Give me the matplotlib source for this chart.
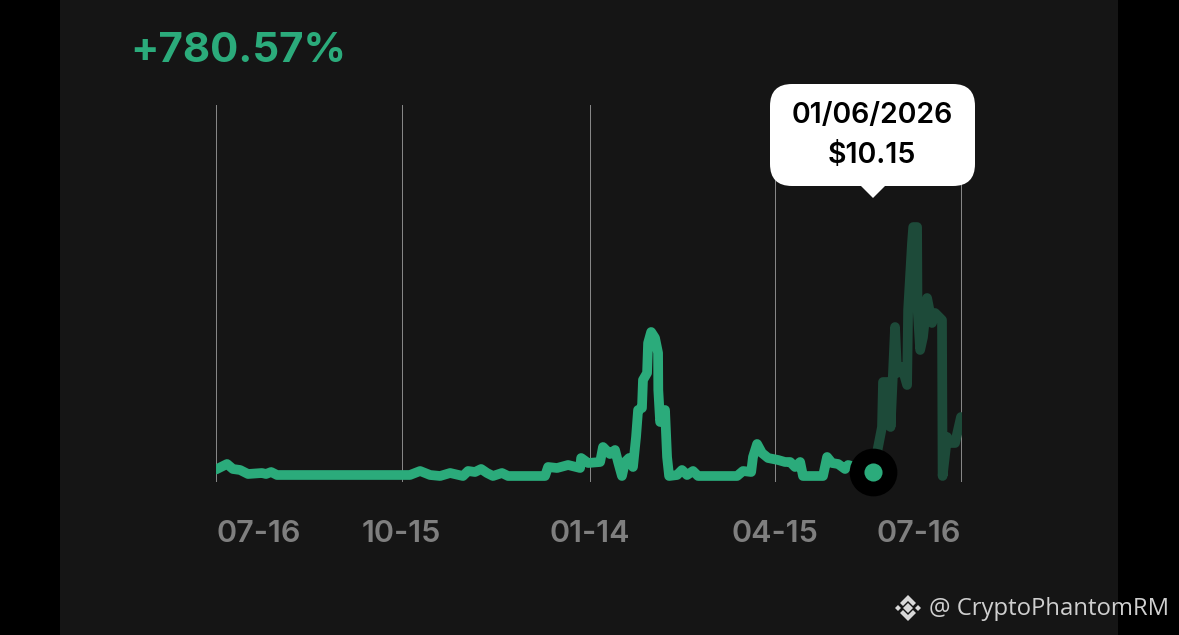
import matplotlib
matplotlib.use('agg')
import matplotlib.pyplot as plt
from matplotlib.patches import FancyBboxPatch, Polygon, Rectangle

# days since the first tick, prices
days = [0, 5.4, 8.3, 11.8, 15.7, 22.5, 24.5, 27, 29.9, 95, 100, 104.9, 109.8, 114.7, 121, 123.5, 126.9,
        129.9, 132.8, 135.7, 140.1, 143.1, 161.2, 162.7, 167.1, 172.5, 178.4, 178.9, 182.3, 188.2, 189.6,
        193, 195.5, 197, 198.9, 200.4, 202.4, 204.3, 205.8, 206.8, 208.7, 209.2, 211.2, 211.7, 213.2,
        215.1, 216.6, 216.7, 217.6, 220, 221, 222, 225.9, 228.3, 230.8, 233.7, 236.2, 255.3, 258.2,
        262.2, 263.1, 265.1, 267.5, 270.5, 275.4, 278.8, 281.3, 283.7, 286.2, 287.6, 297.4, 299.4,
        301.8, 304.8, 308.2, 309.7, 322]
prices = [16.1, 29.3, 17.3, 14.9, 5.3, 7.7, 5.3, 10.1, 2.9, 2.9, 12.5, 2.9, 0.5, 7.7, 0.5, 12.5, 10.1,
          17.3, 7.7, 0.5, 7.7, 0.5, 0.5, 22.1, 19.7, 26.9, 19.7, 43.7, 31.7, 34.1, 70.1,
          53.3, 62.9, 34.1, 0.5, 34.1, 43.7, 22.1, 94.1, 158.9, 163.7, 230.9, 247.7, 319.7, 346.1,
          331.7, 295.7, 206.9, 130.1, 158.9, 46.1, 0.5, 2.9, 14.9, 2.9, 12.5, 0.5, 0.5, 12.5,
          10.1, 46.1, 77.3, 55.7, 43.7, 38.9, 34.1, 34.1, 22.1, 34.1, 0.5, 0.5, 46.1,
          31.7, 29.3, 17.3, 26.9, 10.15]

# part of the series after the selected day
later_days = [322, 326.3, 326.8, 330.3, 330.5, 332.7, 333.7, 336.1, 338.6, 339.1, 341, 341.6, 343.5, 343.7,
              345, 346.4, 348.4, 350.8, 352.3, 355.7, 356, 358.2, 358.7, 362.1, 365]
later_prices = [10.15, 118.1, 226.1, 226.1, 118.1, 358.1, 247.7, 262.1, 218.9, 398.9, 559.7, 598, 598, 406.1,
                302.9, 334.1, 427.7, 367.7, 391.7, 374.9, 0.5, 94.1, 79.7, 79.7, 142.1]

tick_days = [0, 91, 183, 274, 365]
tick_labels = ['07-16', '10-15', '01-14', '04-15', '07-16']
selected_day = 322
selected_price = 10.15

green = '#2bab7b'
dark_green = '#1d4a39'
panel = '#151515'
W, H = 1179, 635

plt.rcParams['font.family'] = ['Inter', 'Lato', 'DejaVu Sans']
fig = plt.figure(figsize=(W / 100, H / 100), dpi=100, facecolor='black')

# panel behind everything
bg = fig.add_axes([0, 0, 1, 1], zorder=0)
bg.set_xlim(0, W)
bg.set_ylim(H, 0)
bg.axis('off')
bg.add_patch(Rectangle((60, 0), 1058, H, fc=panel, ec='none'))

# chart
ax = fig.add_axes([216 / W, 1 - 482 / H, 746 / W, 377 / H], zorder=1)
ax.patch.set_alpha(0)
ax.set_xlim(0, 365.5)
ax.set_ylim(-13.9, 890.9)
for s in ax.spines.values():
    s.set_visible(False)
ax.set_yticks([])
ax.set_xticks(tick_days)
ax.set_xticklabels(tick_labels, fontsize=22, color='#7f7f7f', fontweight='semibold')
ax.get_xticklabels()[0].set_ha('left')
ax.get_xticklabels()[-1].set_ha('right')
ax.tick_params(axis='x', length=0, pad=27)
ax.grid(axis='x', color='#8a8a8a', lw=0.7)
ax.set_axisbelow(True)

ax.plot(later_days, later_prices, color=dark_green, lw=7, solid_joinstyle='round', solid_capstyle='round')
ax.plot(days, prices, color=green, lw=7, solid_joinstyle='round', solid_capstyle='round')
ax.scatter([selected_day], [selected_price], s=1180, color='black', zorder=4, clip_on=False, linewidths=0)
ax.scatter([selected_day], [selected_price], s=170, color=green, zorder=5, clip_on=False, linewidths=0)

# tooltip, title and watermark sit on top in pixel coordinates
top = fig.add_axes([0, 0, 1, 1], zorder=2)
top.set_xlim(0, W)
top.set_ylim(H, 0)
top.axis('off')
top.patch.set_alpha(0)

top.text(130, 51, '+780.57%', color=green, fontsize=30.2, fontweight='bold', va='center', ha='left')

top.add_patch(FancyBboxPatch((790, 104), 165, 62, boxstyle='round,pad=20,rounding_size=22', fc='white', ec='none'))
top.add_patch(Polygon([(860, 185), (886, 185), (873, 198)], fc='white', ec='none'))
top.text(872, 116, '01/06/2026', color='black', fontsize=20.5, fontweight='semibold', ha='center', va='center')
top.text(872, 155, '$10.15', color='black', fontsize=20.5, fontweight='semibold', ha='center', va='center')

logo = '#d8d8d8'
cx, cy = 908, 608
top.add_patch(Polygon([(cx - 5, cy), (cx, cy - 5), (cx + 5, cy), (cx, cy + 5)], fc=logo, ec='none'))
top.add_patch(Polygon([(cx - 13, cy), (cx - 10, cy - 3), (cx - 7, cy), (cx - 10, cy + 3)], fc=logo, ec='none'))
top.add_patch(Polygon([(cx + 13, cy), (cx + 10, cy - 3), (cx + 7, cy), (cx + 10, cy + 3)], fc=logo, ec='none'))
top.add_patch(Polygon([(cx - 8, cy - 5), (cx, cy - 13), (cx + 8, cy - 5), (cx + 5, cy - 2), (cx, cy - 7), (cx - 5, cy - 2)], fc=logo, ec='none'))
top.add_patch(Polygon([(cx - 8, cy + 5), (cx, cy + 13), (cx + 8, cy + 5), (cx + 5, cy + 2), (cx, cy + 7), (cx - 5, cy + 2)], fc=logo, ec='none'))
top.text(929, 609, '@ CryptoPhantomRM', color='#cfcfcf', fontsize=17.2, family=['Open Sans', 'DejaVu Sans'], va='center', ha='left')

plt.savefig('out.png', dpi=100)
